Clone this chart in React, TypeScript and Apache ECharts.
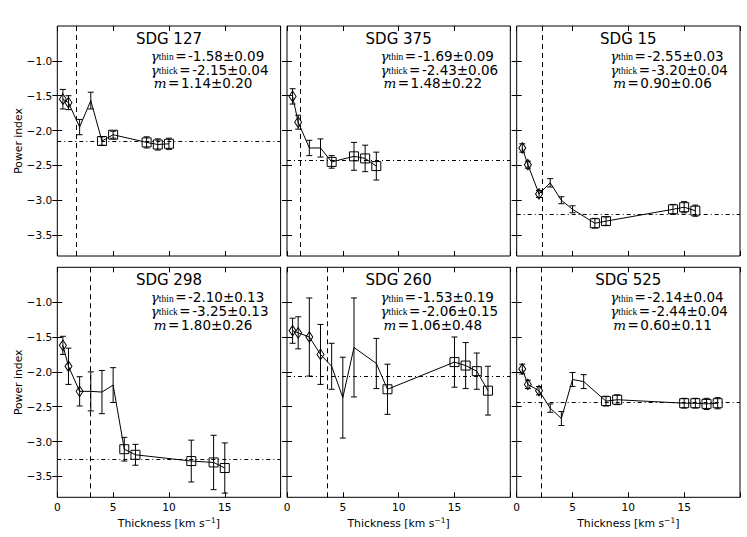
import React, { useEffect, useRef } from 'react';
import * as echarts from 'echarts';

// ---------- data ----------
const PANEL_NAMES = ['SDG 127', 'SDG 375', 'SDG 15', 'SDG 298', 'SDG 260', 'SDG 525'];

const X_127 = [0.5, 1, 2, 3, 4, 5, 8, 9, 10];
const Y_127 = [-1.55, -1.6, -1.95, -1.57, -2.15, -2.06, -2.17, -2.2, -2.19];
const E_127 = [0.14, 0.1, 0.11, 0.12, 0.06, 0.05, 0.08, 0.08, 0.08];
const M_127 = ['d', 'd', '-', '-', 's', 's', 's', 's', 's'];

const X_375 = [0.5, 1, 2, 3, 4, 6, 7, 8];
const Y_375 = [-1.51, -1.88, -2.25, -2.25, -2.45, -2.37, -2.4, -2.51];
const E_375 = [0.11, 0.1, 0.11, 0.13, 0.09, 0.2, 0.19, 0.2];
const M_375 = ['d', 'd', '-', '-', 's', 's', 's', 's'];

const X_15 = [0.5, 1, 2, 3, 4, 5, 7, 8, 14, 15, 16];
const Y_15 = [-2.25, -2.49, -2.91, -2.75, -3.0, -3.13, -3.33, -3.3, -3.13, -3.1, -3.15];
const E_15 = [0.06, 0.05, 0.05, 0.06, 0.05, 0.05, 0.07, 0.06, 0.07, 0.08, 0.08];
const M_15 = ['d', 'd', 'd', '-', '-', '-', 's', 's', 's', 's', 's'];

const X_298 = [0.5, 1, 2, 3, 4, 5, 6, 7, 12, 14, 15];
const Y_298 = [-1.62, -1.92, -2.28, -2.28, -2.29, -2.19, -3.11, -3.19, -3.28, -3.3, -3.38];
const E_298 = [0.13, 0.26, 0.21, 0.28, 0.31, 0.25, 0.17, 0.15, 0.3, 0.39, 0.36];
const M_298 = ['d', 'd', 'd', '-', '-', '-', 's', 's', 's', 's', 's'];

const X_260 = [0.5, 1, 2, 3, 4, 5, 6, 8, 9, 15, 16, 17, 18];
const Y_260 = [-1.41, -1.44, -1.5, -1.75, -1.92, -2.37, -1.65, -1.88, -2.25, -1.86, -1.91, -1.99, -2.27];
const E_260 = [0.18, 0.23, 0.56, 0.43, 0.33, 0.58, 0.71, 0.36, 0.36, 0.36, 0.33, 0.26, 0.35];
const M_260 = ['d', 'd', 'd', 'd', '-', '-', '-', '-', 's', 's', 's', 's', 's'];

const X_525 = [0.5, 1, 2, 3, 4, 5, 6, 8, 9, 15, 16, 17, 18];
const Y_525 = [-1.96, -2.18, -2.27, -2.52, -2.67, -2.11, -2.14, -2.42, -2.4, -2.45, -2.45, -2.46, -2.45];
const E_525 = [0.07, 0.06, 0.06, 0.06, 0.1, 0.1, 0.1, 0.07, 0.07, 0.07, 0.07, 0.08, 0.08];
const M_525 = ['d', 'd', 'd', '-', '-', '-', '-', 's', 's', 's', 's', 's', 's'];

const GAMMA_THIN = ['-1.58±0.09', '-1.69±0.09', '-2.55±0.03', '-2.10±0.13', '-1.53±0.19', '-2.14±0.04'];
const GAMMA_THICK = ['-2.15±0.04', '-2.43±0.06', '-3.20±0.04', '-3.25±0.13', '-2.06±0.15', '-2.44±0.04'];
const M_FIT = ['1.14±0.20', '1.48±0.22', '0.90±0.06', '1.80±0.26', '1.06±0.48', '0.60±0.11'];
const THICK_LEVEL = [-2.15, -2.43, -3.2, -3.25, -2.06, -2.44];
const BREAK_X = [1.67, 1.2, 2.33, 2.92, 3.57, 2.23];

const X_TICK_LABELS = [0, 5, 10, 15];
const X_TICK_MARKS = [0, 5, 10, 15, 20];
const Y_TICKS = [-3.5, -3.0, -2.5, -2.0, -1.5, -1.0];
const X_MIN = 0, X_MAX = 20, Y_MIN = -3.8, Y_MAX = -0.5;

const X_LABEL = 'Thickness [km s';
const Y_LABEL = 'Power index';

const PANELS = [
  { x: X_127, y: Y_127, e: E_127, m: M_127 },
  { x: X_375, y: Y_375, e: E_375, m: M_375 },
  { x: X_15, y: Y_15, e: E_15, m: M_15 },
  { x: X_298, y: Y_298, e: E_298, m: M_298 },
  { x: X_260, y: Y_260, e: E_260, m: M_260 },
  { x: X_525, y: Y_525, e: E_525, m: M_525 },
];

// ---------- layout ----------
const LEFTS = [57.3, 287, 516.7];
const TOPS = [26, 267.3];
const W = 223.3;
const H = 230;
const SANS = 'DejaVu Sans';
const TICK_FS = 10.6;

const fmtY = (v: number) => (v < 0 ? '\u2212' + Math.abs(v).toFixed(1) : v.toFixed(1));

const RICH: any = {
  g: { fontFamily: 'DejaVu Serif', fontStyle: 'italic', fontSize: 13.5, lineHeight: 13, fill: '#000' },
  s: { fontFamily: 'Liberation Serif', fontSize: 9.5, lineHeight: 7, verticalAlign: 'bottom', fill: '#000' },
  e: { fontFamily: SANS, fontSize: 13.5, lineHeight: 13, padding: [0, 1.5, 0, 1.5], fill: '#000' },
  n: { fontFamily: SANS, fontSize: 13.5, lineHeight: 13, fill: '#000' },
};

function errorRender(params: any, api: any) {
  const x = api.value(0);
  const y = api.value(1);
  const e = api.value(2);
  const hi = api.coord([x, y + e]);
  const lo = api.coord([x, y - e]);
  const cw = 3;
  const st = { stroke: '#000', lineWidth: 1, fill: null };
  return {
    type: 'group',
    children: [
      { type: 'line', shape: { x1: hi[0], y1: hi[1], x2: lo[0], y2: lo[1] }, style: st },
      { type: 'line', shape: { x1: hi[0] - cw, y1: hi[1], x2: hi[0] + cw, y2: hi[1] }, style: st },
      { type: 'line', shape: { x1: lo[0] - cw, y1: lo[1], x2: lo[0] + cw, y2: lo[1] }, style: st },
    ],
  };
}

function buildOption() {
  const grid: any[] = [];
  const xPrim: any[] = [];
  const xSec: any[] = [];
  const yPrim: any[] = [];
  const ySec: any[] = [];
  const series: any[] = [];
  const graphic: any[] = [];

  PANELS.forEach((p, i) => {
    const col = i % 3;
    const row = Math.floor(i / 3);
    const left = LEFTS[col];
    const top = TOPS[row];
    grid.push({ left, top, width: W, height: H, show: true, borderColor: '#000', borderWidth: 1, backgroundColor: 'transparent' });

    const tick = { inside: true, length: 5, lineStyle: { color: '#000', width: 1 } };
    xPrim.push({
      type: 'value', gridIndex: i, min: X_MIN, max: X_MAX, position: 'bottom',
      axisLine: { show: false }, splitLine: { show: false },
      axisTick: { ...tick, customValues: X_TICK_MARKS },
      axisLabel: { show: row === 1, customValues: X_TICK_LABELS, margin: 4, fontSize: TICK_FS, fontFamily: SANS, color: '#000' },
    });
    xSec.push({
      type: 'value', gridIndex: i, min: X_MIN, max: X_MAX, position: 'top',
      axisLine: { show: false }, splitLine: { show: false },
      axisTick: { ...tick, customValues: X_TICK_MARKS },
      axisLabel: { show: false },
    });
    yPrim.push({
      type: 'value', gridIndex: i, min: Y_MIN, max: Y_MAX, position: 'left',
      axisLine: { show: false }, splitLine: { show: false },
      axisTick: { ...tick, customValues: Y_TICKS },
      axisLabel: { show: col === 0, customValues: Y_TICKS, formatter: fmtY, margin: 5, fontSize: TICK_FS, fontFamily: SANS, color: '#000' },
    });
    ySec.push({
      type: 'value', gridIndex: i, min: Y_MIN, max: Y_MAX, position: 'right',
      axisLine: { show: false }, splitLine: { show: false },
      axisTick: { ...tick, customValues: Y_TICKS },
      axisLabel: { show: false },
    });

    series.push({
      type: 'line', xAxisIndex: i, yAxisIndex: i, silent: true, z: 3,
      data: p.x.map((x, k) => {
        const mk = p.m[k];
        if (mk === 'd') return { value: [x, p.y[k]], symbol: 'diamond', symbolSize: [7, 10.5] };
        if (mk === 's') return { value: [x, p.y[k]], symbol: 'rect', symbolSize: 9 };
        return { value: [x, p.y[k]], symbol: 'none' };
      }),
      showSymbol: true,
      lineStyle: { color: '#000', width: 1 },
      itemStyle: { color: 'rgba(0,0,0,0)', borderColor: '#000', borderWidth: 1 },
      emphasis: { disabled: true },
      markLine: {
        silent: true, symbol: ['none', 'none'], label: { show: false },
        lineStyle: { color: '#000', width: 1 },
        emphasis: { disabled: true },
        data: [
          { yAxis: THICK_LEVEL[i], lineStyle: { type: [4, 3, 1, 3], color: '#000', width: 1 } },
          { xAxis: BREAK_X[i], lineStyle: { type: [5, 4], color: '#000', width: 1 } },
        ],
      },
    });
    series.push({
      type: 'custom', xAxisIndex: i, yAxisIndex: i, silent: true, z: 2,
      encode: { x: 0, y: 1 },
      data: p.x.map((x, k) => [x, p.y[k], p.e[k]]),
      renderItem: errorRender,
    });

    // title
    graphic.push({
      type: 'text', x: left + W / 2, y: top + 12.8, silent: true,
      style: { text: PANEL_NAMES[i], fontFamily: SANS, fontSize: 15, fill: '#000', align: 'center', verticalAlign: 'middle' },
    });
    const ax = left + 93.5;
    graphic.push({
      type: 'text', x: ax, y: top + 29.8, silent: true,
      style: { text: '{g|γ}{s|thin}{e|=}{n|' + GAMMA_THIN[i] + '}', rich: RICH, align: 'left', verticalAlign: 'middle', fill: '#000' },
    });
    graphic.push({
      type: 'text', x: ax, y: top + 43.5, silent: true,
      style: { text: '{g|γ}{s|thick}{e|=}{n|' + GAMMA_THICK[i] + '}', rich: RICH, align: 'left', verticalAlign: 'middle', fill: '#000' },
    });
    graphic.push({
      type: 'text', x: ax + 3, y: top + 57.2, silent: true,
      style: { text: '{g|m}{e|=}{n|' + M_FIT[i] + '}', rich: RICH, align: 'left', verticalAlign: 'middle', fill: '#000' },
    });

    if (col === 0) {
      graphic.push({
        type: 'text', x: 18, y: top + H / 2, rotation: Math.PI / 2, silent: true,
        style: { text: Y_LABEL, fontFamily: SANS, fontSize: 10.8, fill: '#000', align: 'center', verticalAlign: 'middle' },
      });
    }
    if (row === 1) {
      graphic.push({
        type: 'text', x: left + W / 2, y: 523, silent: true,
        style: {
          text: '{t|' + X_LABEL + '}{u|\u22121}{t|]}',
          rich: {
            t: { fontFamily: SANS, fontSize: 10.8, lineHeight: 14, fill: '#000' },
            u: { fontFamily: SANS, fontSize: 7.6, lineHeight: 8, verticalAlign: 'top', fill: '#000' },
          },
          align: 'center', verticalAlign: 'middle', fill: '#000',
        },
      });
    }
  });

  return {
    animation: false,
    backgroundColor: '#fff',
    grid,
    xAxis: [...xPrim, ...xSec],
    yAxis: [...yPrim, ...ySec],
    series,
    graphic,
  };
}

export default function App() {
  const ref = useRef<HTMLDivElement>(null);
  useEffect(() => {
    document.body.style.margin = '0';
    const chart = echarts.init(ref.current as HTMLDivElement, null, { renderer: 'svg' });
    chart.setOption(buildOption() as any);
    return () => chart.dispose();
  }, []);
  return <div ref={ref} style={{ width: 747, height: 537 }} />;
}
